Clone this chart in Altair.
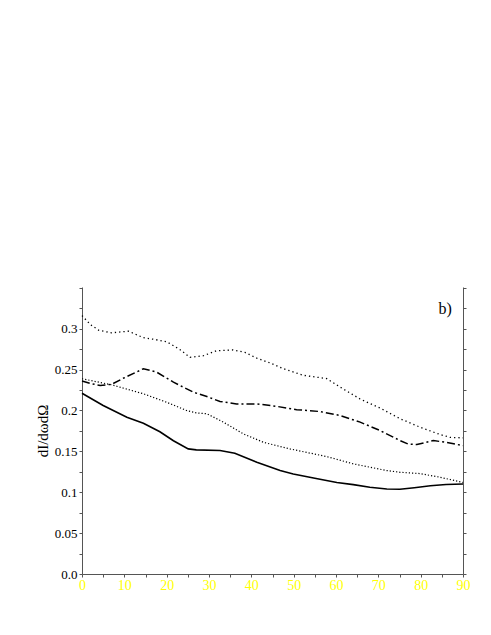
import altair as alt
import pandas as pd

# ---- data ----
top_dot_x = [0, 2, 4, 7, 11, 14.5, 17, 20, 23, 25.5, 28.7, 31.8, 35.7, 38.5, 41.3, 44.5, 47.6,
             52.3, 57.8, 61, 65.7, 70.4, 75.1, 79.9, 84.6, 87, 90]
top_dot_y = [0.316, 0.305, 0.298, 0.295, 0.297, 0.289, 0.287, 0.284, 0.275, 0.265, 0.267, 0.273,
             0.274, 0.271, 0.264, 0.258, 0.251, 0.243, 0.239, 0.2285, 0.214, 0.203, 0.190, 0.1795,
             0.1706, 0.167, 0.1665]

dashdot_x = [0, 2, 4.3, 7, 10, 14.5, 17.6, 21.6, 26.3, 29.5, 32.6, 36.5, 41.3, 46, 50.7, 56.2,
             61, 65.7, 70.4, 75.1, 77, 79.1, 83, 86, 90]
dashdot_y = [0.236, 0.233, 0.2306, 0.232, 0.240, 0.251, 0.247, 0.2346, 0.2224, 0.217, 0.211,
             0.208, 0.208, 0.205, 0.201, 0.1987, 0.1938, 0.1857, 0.1755, 0.1632, 0.159, 0.1583,
             0.1632, 0.161, 0.157]

low_dot_x = [0, 7, 14.5, 20, 24.7, 27, 29.5, 33.4, 38.1, 42.9, 49.1, 57.8, 64.1, 72, 75.1, 79.9,
             84.6, 90]
low_dot_y = [0.2388, 0.2314, 0.2204, 0.210, 0.200, 0.197, 0.196, 0.1857, 0.1714, 0.161, 0.153,
             0.1436, 0.1347, 0.1265, 0.1244, 0.1228, 0.1183, 0.112]

solid_x = [0, 5, 10.6, 14.5, 18.4, 21.6, 25.1, 27, 32.6, 36.1, 41.3, 46.8, 49.9, 55, 60.2, 64.1,
           68, 72, 75.1, 78.5, 82.3, 86, 90]
solid_y = [0.221, 0.206, 0.1918, 0.1844, 0.174, 0.163, 0.153, 0.1518, 0.151, 0.1477, 0.1367,
           0.1265, 0.1224, 0.117, 0.112, 0.1093, 0.106, 0.104, 0.1036, 0.1055, 0.108, 0.1095,
           0.110]

x_ticks = list(range(0, 91, 5))
y_ticks = [round(i * 0.025, 3) for i in range(0, 15)]

label_text = ["b)"]
label_x = [85.8]
label_y = [0.3236]

SERIF = "Times New Roman, Liberation Serif, serif"


def frame(xs, ys):
    return pd.DataFrame({"angle": xs, "val": ys})


x_enc = alt.X("angle:Q",
              scale=alt.Scale(domain=[0, 90], nice=False, zero=False),
              axis=alt.Axis(values=x_ticks, title=None,
                            labelExpr="datum.value % 10 == 0 ? datum.value : ''",
                            labelColor="#ffff00", labelFont=SERIF, labelFontSize=14,
                            tickSize=3, labelPadding=1, labelFlush=False,
                            domainColor="#555555", tickColor="#555555"))

y_scale = alt.Scale(domain=[0, 0.351], nice=False, zero=False)

y_left = alt.Y("val:Q", scale=y_scale,
               axis=alt.Axis(orient="left", values=y_ticks, title="dI/dωdΩ",
                             titleFont=SERIF, titleFontSize=15, titleFontWeight="normal",
                             titleColor="black", titlePadding=4,
                             labelExpr="datum.value == 0 ? '0.0' : "
                                       "((round(datum.value*1000) % 50 == 0 && datum.value < 0.34) ? "
                                       "format(datum.value, '.2~f') : '')",
                             labelFont=SERIF, labelFontSize=13, labelColor="black",
                             tickSize=3, labelPadding=2, labelFlush=False,
                             domainColor="#555555", tickColor="#555555"))

y_right = alt.Y("val:Q", scale=y_scale,
                axis=alt.Axis(orient="right", values=y_ticks, title=None, labels=False,
                              tickSize=3, domainColor="#555555", tickColor="#555555"))

y_plain = alt.Y("val:Q", scale=y_scale, axis=None)

top_dot = alt.Chart(frame(top_dot_x, top_dot_y)).mark_line(
    color="black", strokeWidth=1.3, strokeDash=[1.3, 3]
).encode(x=x_enc, y=y_left)

dashdot = alt.Chart(frame(dashdot_x, dashdot_y)).mark_line(
    color="black", strokeWidth=1.5, strokeDash=[8, 3, 2, 3]
).encode(x=x_enc, y=y_right)

low_dot = alt.Chart(frame(low_dot_x, low_dot_y)).mark_line(
    color="black", strokeWidth=1.2, strokeDash=[1.2, 2]
).encode(x=x_enc, y=y_plain)

solid = alt.Chart(frame(solid_x, solid_y)).mark_line(
    color="black", strokeWidth=1.6
).encode(x=x_enc, y=y_plain)

label = alt.Chart(pd.DataFrame({"angle": label_x, "val": label_y, "t": label_text})).mark_text(
    font=SERIF, fontSize=16, color="black", align="center", baseline="middle"
).encode(x=x_enc, y=y_plain, text="t:N")

chart = alt.layer(top_dot, dashdot, low_dot, solid, label).resolve_axis(
    y="independent"
).properties(
    width=381, height=287,
    autosize=alt.AutoSizeParams(type="none"),
    padding={"left": 74, "top": 279, "right": 20, "bottom": 40},
    background="white",
).configure_view(stroke=None).configure_axis(grid=False)

chart.save("out.html", embed_options={"renderer": "svg", "actions": False})
